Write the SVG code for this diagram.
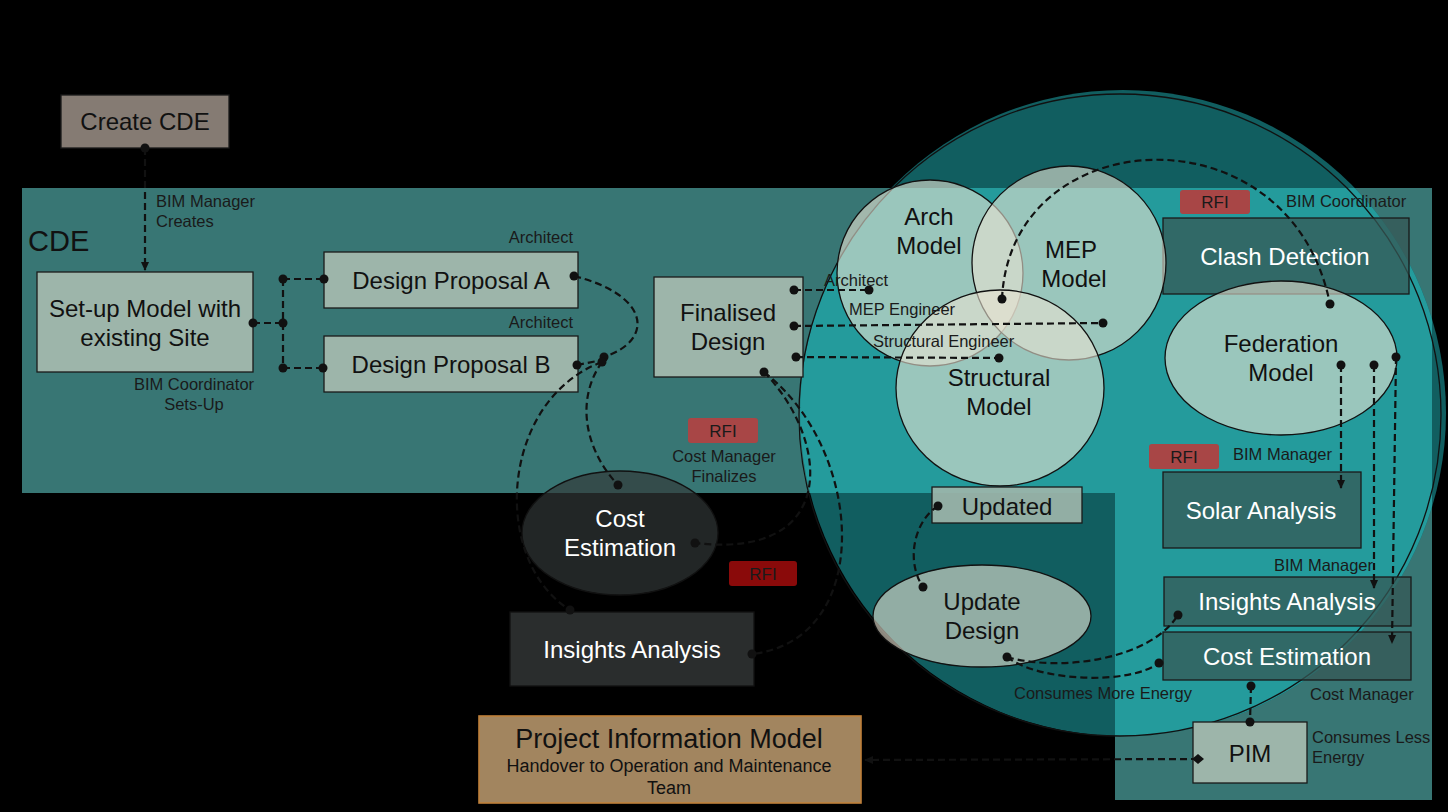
<svg xmlns="http://www.w3.org/2000/svg" width="1448" height="812" viewBox="0 0 1448 812">
<style>
.bg{fill:#000}
.zone{fill:#387674}
.sage{fill:#9db5aa;stroke:#1a1a1a;stroke-width:1.3}
.dk{fill:#355855;fill-opacity:.75;stroke:#1a1a1a;stroke-width:1.3}
.wash{fill:#e9e3d2;fill-opacity:.6;stroke:#111;stroke-width:1.3}
.t{font-family:"Liberation Sans",Arial,sans-serif;font-size:24px;fill:#111;text-anchor:middle}
.tw{font-family:"Liberation Sans",Arial,sans-serif;font-size:24px;fill:#fff;text-anchor:middle}
.big{font-size:27px}
.sub{font-size:18px}
.lb{font-family:"Liberation Sans",Arial,sans-serif;font-size:16.5px;fill:#1a1a1a}
.rfi{font-family:"Liberation Sans",Arial,sans-serif;font-size:17px;fill:#1a1a1a;text-anchor:middle}
.c{fill:none;stroke:#111;stroke-width:2.2;stroke-dasharray:7 4}
.dot{fill:#111}
</style>
<defs>
<marker id="arr" markerWidth="10" markerHeight="10" refX="8" refY="5" orient="auto" markerUnits="userSpaceOnUse">
<path d="M0,1 L9,5 L0,9 Z" fill="#111"/>
</marker>
<clipPath id="zones">
<rect x="22" y="188" width="1410" height="305"/>
<rect x="1115" y="493" width="317" height="307"/>
</clipPath>
</defs>
<rect class="bg" x="0" y="0" width="1448" height="812"/>
<g id="cde-zone">
<rect class="zone" x="22" y="188" width="1410" height="305"/>
<rect class="zone" x="1115" y="493" width="317" height="307"/>
<circle cx="1123" cy="413" r="323" fill="#115e60"/>
<circle cx="1123" cy="413" r="323" fill="#249b9c" clip-path="url(#zones)"/>
<circle cx="1120" cy="415" r="321" fill="none" stroke="#111" stroke-width="1.3"/>
<text x="28" y="251" font-family="Liberation Sans, Arial, sans-serif" font-size="29" fill="#111">CDE</text>
</g>
<g id="create-cde">
<rect x="61" y="95" width="168" height="53" fill="#857b73" stroke="#1a1a1a" stroke-width="1.3"/>
<text class="t" x="145" y="130">Create CDE</text>
</g>
<g id="setup">
<rect class="sage" x="37" y="272" width="216" height="100"/>
<text class="t" x="145" y="317">Set-up Model with</text>
<text class="t" x="145" y="346">existing Site</text>
</g>
<g id="proposal-a">
<rect class="sage" x="324" y="252" width="254" height="56"/>
<text class="t" x="451" y="289">Design Proposal A</text>
</g>
<g id="proposal-b">
<rect class="sage" x="324" y="336" width="254" height="56"/>
<text class="t" x="451" y="373">Design Proposal B</text>
</g>
<g id="finalised">
<rect class="sage" x="654" y="277" width="149" height="100"/>
<text class="t" x="728" y="321">Finalised</text>
<text class="t" x="728" y="350">Design</text>
</g>
<g id="cost-left">
<ellipse cx="620" cy="533" rx="98" ry="62" fill="#323838" fill-opacity=".68" stroke="#111" stroke-width="1.3"/>
<text class="tw" x="620" y="527">Cost</text>
<text class="tw" x="620" y="556">Estimation</text>
</g>
<g id="insights-left">
<rect x="510" y="612" width="244" height="74" fill="#2a2d2d" stroke="#111" stroke-width="1.3"/>
<text class="tw" x="632" y="658">Insights Analysis</text>
</g>
<g id="pim-model">
<rect x="479" y="716" width="382" height="87" fill="#a2855f" stroke="#c0803a" stroke-width="1.6"/>
<text class="t big" x="669" y="748">Project Information Model</text>
<text class="t sub" x="669" y="772">Handover to Operation and Maintenance</text>
<text class="t sub" x="669" y="794">Team</text>
</g>
<g id="clash">
<rect class="dk" x="1163" y="218" width="246" height="76"/>
<text class="tw" x="1285" y="265">Clash Detection</text>
</g>
<g id="solar">
<rect class="dk" x="1163" y="472" width="198" height="76"/>
<text class="tw" x="1261" y="519">Solar Analysis</text>
</g>
<g id="insights-right">
<rect class="dk" x="1164" y="577" width="247" height="49"/>
<text class="tw" x="1287" y="610">Insights Analysis</text>
</g>
<g id="cost-right">
<rect class="dk" x="1163" y="632" width="248" height="48"/>
<text class="tw" x="1287" y="665">Cost Estimation</text>
</g>
<g id="arch">
<circle class="wash" cx="930" cy="273" r="93"/>
</g>
<g id="mep">
<circle class="wash" cx="1069" cy="263" r="97"/>
</g>
<g id="structural">
<ellipse class="wash" cx="1000" cy="388" rx="104" ry="98"/>
</g>
<g id="federation">
<ellipse class="wash" cx="1281" cy="358" rx="116" ry="77"/>
<text class="t" x="1281" y="352">Federation</text>
<text class="t" x="1281" y="381">Model</text>
</g>
<g id="model-labels">
<text class="t" x="929" y="225">Arch</text>
<text class="t" x="929" y="254">Model</text>
<text class="t" x="1071" y="258">MEP</text>
<text class="t" x="1074" y="287">Model</text>
<text class="t" x="999" y="386">Structural</text>
<text class="t" x="999" y="415">Model</text>
</g>
<g id="updated">
<rect x="932" y="487" width="150" height="36" fill="#9db5aa" fill-opacity=".92" stroke="#1a1a1a" stroke-width="1.3"/>
<text class="t" x="1007" y="515">Updated</text>
</g>
<g id="update-design">
<ellipse class="wash" cx="982" cy="616" rx="109" ry="51"/>
<text class="t" x="982" y="610">Update</text>
<text class="t" x="982" y="639">Design</text>
</g>
<g id="pim">
<rect class="sage" x="1193" y="722" width="114" height="61"/>
<text class="t" x="1250" y="762">PIM</text>
</g>
<g id="rfi-tags">
<rect x="688" y="418" width="70" height="25" rx="3" fill="#a84646"/>
<text class="rfi" x="723" y="437">RFI</text>
<rect x="729" y="561" width="68" height="25" rx="3" fill="#8a0a0a"/>
<text class="rfi" x="763" y="580">RFI</text>
<rect x="1180" y="190" width="70" height="24" rx="3" fill="#a84646"/>
<text class="rfi" x="1215" y="208">RFI</text>
<rect x="1149" y="444" width="70" height="25" rx="3" fill="#a84646"/>
<text class="rfi" x="1184" y="463">RFI</text>
</g>
<g id="labels">
<text class="lb" x="156" y="207">BIM Manager</text>
<text class="lb" x="156" y="227">Creates</text>
<text class="lb" x="194" y="390" text-anchor="middle">BIM Coordinator</text>
<text class="lb" x="194" y="410" text-anchor="middle">Sets-Up</text>
<text class="lb" x="573" y="243" text-anchor="end">Architect</text>
<text class="lb" x="573" y="328" text-anchor="end">Architect</text>
<text class="lb" x="824" y="286">Architect</text>
<text class="lb" x="849" y="315">MEP Engineer</text>
<text class="lb" x="873" y="347">Structural Engineer</text>
<text class="lb" x="724" y="462" text-anchor="middle">Cost Manager</text>
<text class="lb" x="724" y="482" text-anchor="middle">Finalizes</text>
<text class="lb" x="1286" y="207">BIM Coordinator</text>
<text class="lb" x="1233" y="460">BIM Manager</text>
<text class="lb" x="1274" y="571">BIM Manager</text>
<text class="lb" x="1014" y="699">Consumes More Energy</text>
<text class="lb" x="1310" y="700">Cost Manager</text>
<text class="lb" x="1312" y="743">Consumes Less</text>
<text class="lb" x="1312" y="763">Energy</text>
</g>
<g id="connectors">
<path class="c" d="M145,148 L145,270" marker-end="url(#arr)"/>
<path class="c" d="M253,323 L283,323"/>
<path class="c" d="M283,279 L283,368"/>
<path class="c" d="M283,279 L324,279"/>
<path class="c" d="M283,368 L324,368"/>
<path class="c" d="M574,276 C650,295 655,340 604,357"/>
<path class="c" d="M577,365 L602,360"/>
<path class="c" d="M602,362 C500,400 490,560 570,610"/>
<path class="c" d="M602,362 C575,400 585,450 618,485"/>
<path class="c" d="M764,372 C830,440 840,560 695,543"/>
<path class="c" d="M764,372 C865,450 875,640 752,654"/>
<path class="c" d="M794,290 L869,290"/>
<path class="c" d="M794,326 L1103,323"/>
<path class="c" d="M796,357 L999,358"/>
<path class="c" d="M1002,299 C1010,120 1290,105 1330,304"/>
<path class="c" d="M1341,365 L1341,488" marker-end="url(#arr)"/>
<path class="c" d="M1374,365 L1374,588" marker-end="url(#arr)"/>
<path class="c" d="M1396,357 L1392,643" marker-end="url(#arr)"/>
<path class="c" d="M938,506 C915,520 905,560 923,587"/>
<path class="c" d="M1007,657 C1060,672 1150,660 1178,615"/>
<path class="c" d="M1007,657 C1040,682 1130,685 1159,663"/>
<path class="c" d="M1251,686 L1250,722"/>
<path class="c" d="M1198,759 L865,760" stroke="#222" stroke-width="1.6" marker-end="url(#arr)"/>
<circle class="dot" cx="145" cy="148" r="4.5"/>
<circle class="dot" cx="253" cy="323" r="4.5"/>
<circle class="dot" cx="283" cy="323" r="4.5"/>
<circle class="dot" cx="283" cy="279" r="4.5"/>
<circle class="dot" cx="283" cy="368" r="4.5"/>
<circle class="dot" cx="324" cy="279" r="4.5"/>
<circle class="dot" cx="323" cy="368" r="4.5"/>
<circle class="dot" cx="574" cy="276" r="4.5"/>
<circle class="dot" cx="577" cy="365" r="4.5"/>
<circle class="dot" cx="604" cy="357" r="4.5"/>
<circle class="dot" cx="602" cy="362" r="4.5"/>
<circle class="dot" cx="618" cy="485" r="4.5"/>
<circle class="dot" cx="570" cy="610" r="4.5"/>
<circle class="dot" cx="764" cy="372" r="4.5"/>
<circle class="dot" cx="695" cy="543" r="4.5"/>
<circle class="dot" cx="752" cy="654" r="4.5"/>
<circle class="dot" cx="794" cy="290" r="4.5"/>
<circle class="dot" cx="794" cy="326" r="4.5"/>
<circle class="dot" cx="796" cy="357" r="4.5"/>
<circle class="dot" cx="869" cy="290" r="4.5"/>
<circle class="dot" cx="1103" cy="323" r="4.5"/>
<circle class="dot" cx="999" cy="358" r="4.5"/>
<circle class="dot" cx="1002" cy="299" r="4.5"/>
<circle class="dot" cx="1330" cy="304" r="4.5"/>
<circle class="dot" cx="1341" cy="365" r="4.5"/>
<circle class="dot" cx="1374" cy="365" r="4.5"/>
<circle class="dot" cx="1396" cy="357" r="4.5"/>
<circle class="dot" cx="938" cy="506" r="4.5"/>
<circle class="dot" cx="923" cy="587" r="4.5"/>
<circle class="dot" cx="1007" cy="657" r="4.5"/>
<circle class="dot" cx="1178" cy="615" r="4.5"/>
<circle class="dot" cx="1159" cy="663" r="4.5"/>
<circle class="dot" cx="1251" cy="686" r="4.5"/>
<circle class="dot" cx="1250" cy="722" r="4.5"/>
<path class="dot" d="M1192,759 L1198,754 L1204,759 L1198,764 Z"/>
</g>
</svg>
